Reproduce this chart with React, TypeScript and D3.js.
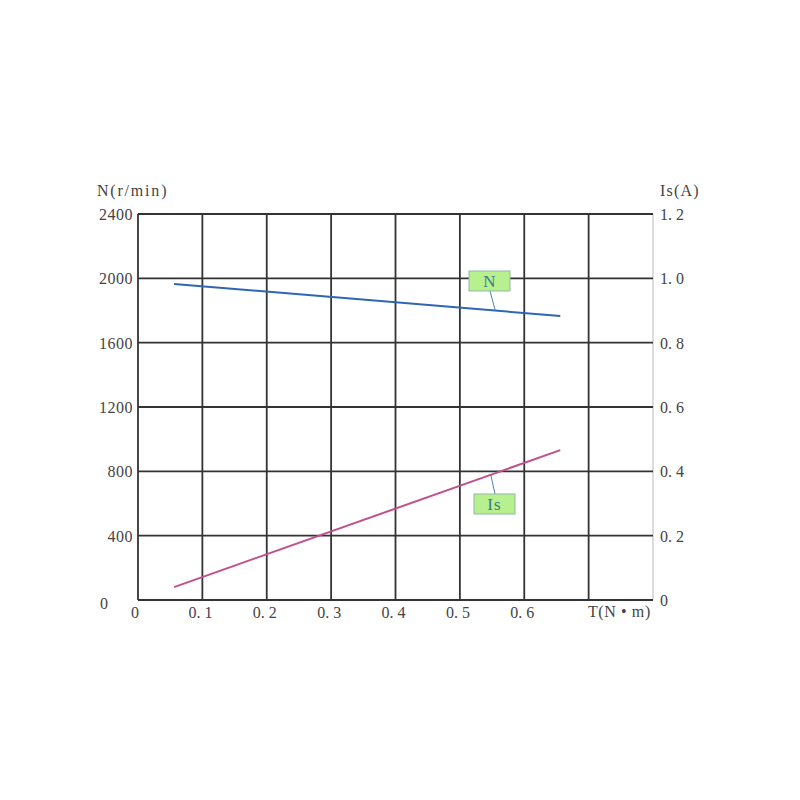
import React from "react";
import * as d3 from "d3";

const xTicks = [0, 0.1, 0.2, 0.3, 0.4, 0.5, 0.6, 0.7, 0.8];
const xTickLabels = ["0", "0. 1", "0. 2", "0. 3", "0. 4", "0. 5", "0. 6"];
const leftTicks = [0, 400, 800, 1200, 1600, 2000, 2400];
const leftTickLabels = ["0", "400", "800", "1200", "1600", "2000", "2400"];
const rightTicks = [0, 0.2, 0.4, 0.6, 0.8, 1.0, 1.2];
const rightTickLabels = ["0", "0. 2", "0. 4", "0. 6", "0. 8", "1. 0", "1. 2"];

const torque = [0.056, 0.656];
const speedN = [1965, 1766];
const currentIs = [0.04, 0.466];

const FONT = "'Liberation Serif', 'DejaVu Serif', serif";

export default function App() {
  const left = 138, right = 653, top = 214, bottom = 600;
  const x = d3.scaleLinear().domain([0, 0.8]).range([left, right]);
  const yL = d3.scaleLinear().domain([0, 2400]).range([bottom, top]);
  const yR = d3.scaleLinear().domain([0, 1.2]).range([bottom, top]);

  const lineN = d3.line<number>().x((_, i) => x(torque[i])).y((d) => yL(d));
  const lineIs = d3.line<number>().x((_, i) => x(torque[i])).y((d) => yR(d));

  const grid = "#333";
  const txt = "#444";

  const nT = 0.555;
  const nY = yL(d3.scaleLinear().domain(torque).range(speedN)(nT));
  const iT = 0.548;
  const iY = yR(d3.scaleLinear().domain(torque).range(currentIs)(iT));

  return (
    <svg width={800} height={800} style={{ display: "block", position: "absolute", left: 0, top: 0, background: "#fff" }}>
      <rect x={0} y={0} width={800} height={800} fill="#fff" />
      <line x1={right} x2={right} y1={top} y2={bottom} stroke="#bbb" strokeWidth={1} />
      {xTicks.slice(0, 8).map((t) => (
        <line key={"vx" + t} x1={x(t)} x2={x(t)} y1={top} y2={bottom} stroke={grid} strokeWidth={1.8} />
      ))}
      {leftTicks.map((t) => (
        <line key={"hy" + t} x1={left} x2={right} y1={yL(t)} y2={yL(t)} stroke={grid} strokeWidth={1.8} />
      ))}
      {leftTicks.map((t, i) =>
        t === 0 ? (
          <text key={"lt" + t} x={100} y={yL(t) + 9} fontFamily={FONT} fontSize={16} fill={txt}>
            {leftTickLabels[i]}
          </text>
        ) : (
          <text key={"lt" + t} x={133} y={yL(t) + 6} textAnchor="end" fontFamily={FONT} fontSize={16} fill={txt} letterSpacing={0.5}>
            {leftTickLabels[i]}
          </text>
        )
      )}
      {rightTicks.map((t, i) => (
        <text key={"rt" + t} x={660} y={yR(t) + 6} fontFamily={FONT} fontSize={16} fill={txt}>
          {rightTickLabels[i]}
        </text>
      ))}
      {xTickLabels.map((lab, i) => (
        <text key={"xt" + i} x={i === 0 ? x(xTicks[i]) - 3 : x(xTicks[i]) - 2} y={618} textAnchor="middle" fontFamily={FONT} fontSize={16} fill={txt}>
          {lab}
        </text>
      ))}
      <text x={97} y={196} fontFamily={FONT} fontSize={16} fill={txt} letterSpacing={1.8}>N(r/min)</text>
      <text x={660} y={196} fontFamily={FONT} fontSize={16} fill={txt} letterSpacing={1.2}>Is(A)</text>
      <text x={588} y={617} fontFamily={FONT} fontSize={16} fill={txt} letterSpacing={0.6}>T(N • m)</text>

      <path d={lineN(speedN) || ""} fill="none" stroke="#2f66b3" strokeWidth={2} />
      <path d={lineIs(currentIs) || ""} fill="none" stroke="#c2508a" strokeWidth={2} />

      <line x1={490} y1={291} x2={x(nT)} y2={nY} stroke="#4a7fb5" strokeWidth={1} />
      <rect x={469} y={271} width={41} height={20} fill="#b8f08f" stroke="#8fb8a8" strokeWidth={1} />
      <text x={489.5} y={287} textAnchor="middle" fontFamily={FONT} fontSize={17} fill="#3a7a86">N</text>

      <line x1={495} y1={494} x2={x(iT)} y2={iY} stroke="#4a7fb5" strokeWidth={1} />
      <rect x={474} y={494} width={41} height={20} fill="#b8f08f" stroke="#8fb8a8" strokeWidth={1} />
      <text x={494.5} y={510} textAnchor="middle" fontFamily={FONT} fontSize={17} fill="#3a7a86" letterSpacing={1}>Is</text>
    </svg>
  );
}
